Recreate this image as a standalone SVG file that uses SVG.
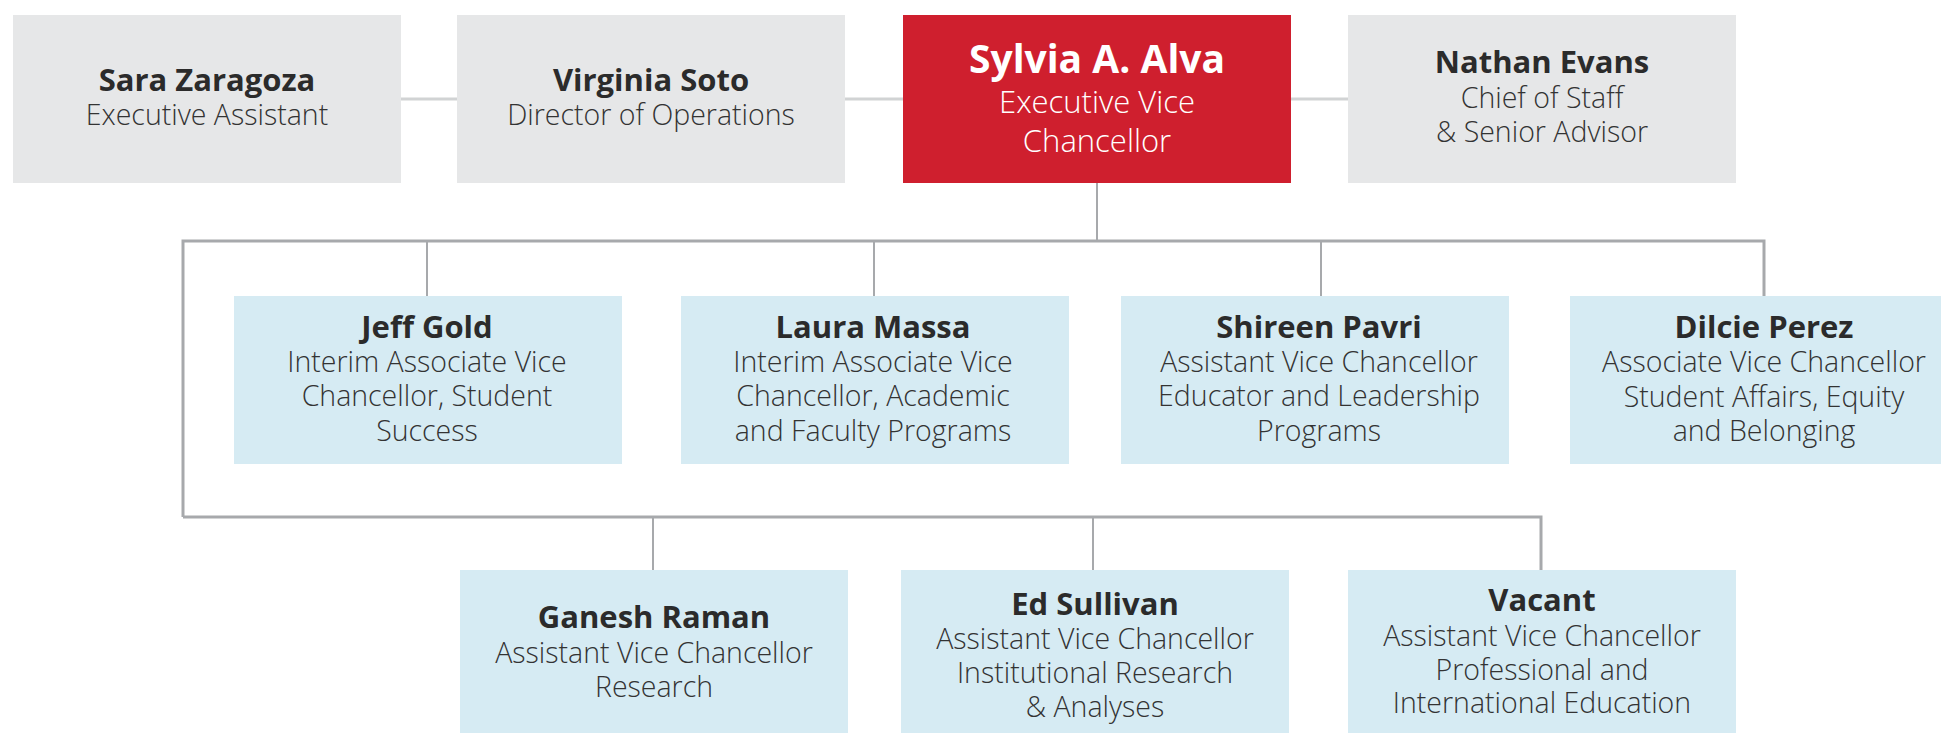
<svg xmlns="http://www.w3.org/2000/svg" width="1941" height="733" viewBox="0 0 1941 733">
<style>
.grey{fill:#e6e7e8}
.red{fill:#cf1f2e}
.blue{fill:#d6ebf3}
.nm{font-family:"Open Sans","Noto Sans",sans-serif;font-weight:700;font-size:31px;fill:#2b2b2b;text-anchor:middle}
.sb{font-family:"Open Sans","Noto Sans",sans-serif;font-weight:300;font-size:28.5px;fill:#333333;text-anchor:middle}
.w{fill:#ffffff}
.lt{stroke:#d1d3d4;stroke-width:3;fill:none}
.ln{stroke:#a7a9ac;stroke-width:2;fill:none}
.lh{stroke:#a7a9ac;stroke-width:3;fill:none}
</style>
<g id="connectors">
<line class="lt" x1="401" y1="99" x2="457" y2="99"/>
<line class="lt" x1="845" y1="99" x2="903" y2="99"/>
<line class="lt" x1="1291" y1="99" x2="1348" y2="99"/>
<line class="ln" x1="1097" y1="183" x2="1097" y2="241"/>
<polyline class="lh" points="183,517 183,241 1764,241 1764,296"/>
<line class="ln" x1="427" y1="241" x2="427" y2="296"/>
<line class="ln" x1="874" y1="241" x2="874" y2="296"/>
<line class="ln" x1="1321" y1="241" x2="1321" y2="296"/>
<polyline class="lh" points="183,517 1541,517 1541,570"/>
<line class="ln" x1="653" y1="517" x2="653" y2="570"/>
<line class="ln" x1="1093" y1="517" x2="1093" y2="570"/>
</g>
<g id="sara">
<rect class="grey" x="13" y="15" width="388" height="168"/>
<text class="nm" x="207" y="91">Sara Zaragoza</text>
<text class="sb" x="207" y="125">Executive Assistant</text>
</g>
<g id="virginia">
<rect class="grey" x="457" y="15" width="388" height="168"/>
<text class="nm" x="651" y="91">Virginia Soto</text>
<text class="sb" x="651" y="125">Director of Operations</text>
</g>
<g id="sylvia">
<rect class="red" x="903" y="15" width="388" height="168"/>
<text class="nm w" x="1097" y="73" style="font-size:39px">Sylvia A. Alva</text>
<text class="sb w" x="1097" y="113" style="font-size:31px">Executive Vice</text>
<text class="sb w" x="1097" y="152" style="font-size:31px">Chancellor</text>
</g>
<g id="nathan">
<rect class="grey" x="1348" y="15" width="388" height="168"/>
<text class="nm" x="1542" y="73">Nathan Evans</text>
<text class="sb" x="1542" y="108">Chief of Staff</text>
<text class="sb" x="1542" y="142">&amp; Senior Advisor</text>
</g>
<g id="jeff">
<rect class="blue" x="234" y="296" width="388" height="168"/>
<text class="nm" x="427" y="338">Jeff Gold</text>
<text class="sb" x="427" y="372">Interim Associate Vice</text>
<text class="sb" x="427" y="406">Chancellor, Student</text>
<text class="sb" x="427" y="441">Success</text>
</g>
<g id="laura">
<rect class="blue" x="681" y="296" width="388" height="168"/>
<text class="nm" x="873" y="338">Laura Massa</text>
<text class="sb" x="873" y="372">Interim Associate Vice</text>
<text class="sb" x="873" y="406">Chancellor, Academic</text>
<text class="sb" x="873" y="441">and Faculty Programs</text>
</g>
<g id="shireen">
<rect class="blue" x="1121" y="296" width="388" height="168"/>
<text class="nm" x="1319" y="338">Shireen Pavri</text>
<text class="sb" x="1319" y="372">Assistant Vice Chancellor</text>
<text class="sb" x="1319" y="406">Educator and Leadership</text>
<text class="sb" x="1319" y="441">Programs</text>
</g>
<g id="dilcie">
<rect class="blue" x="1570" y="296" width="388" height="168"/>
<text class="nm" x="1764" y="338">Dilcie Perez</text>
<text class="sb" x="1764" y="372">Associate Vice Chancellor</text>
<text class="sb" x="1764" y="407">Student Affairs, Equity</text>
<text class="sb" x="1764" y="441">and Belonging</text>
</g>
<g id="ganesh">
<rect class="blue" x="460" y="570" width="388" height="168"/>
<text class="nm" x="654" y="628">Ganesh Raman</text>
<text class="sb" x="654" y="663">Assistant Vice Chancellor</text>
<text class="sb" x="654" y="697">Research</text>
</g>
<g id="ed">
<rect class="blue" x="901" y="570" width="388" height="168"/>
<text class="nm" x="1095" y="615">Ed Sullivan</text>
<text class="sb" x="1095" y="649">Assistant Vice Chancellor</text>
<text class="sb" x="1095" y="683">Institutional Research</text>
<text class="sb" x="1095" y="717">&amp; Analyses</text>
</g>
<g id="vacant">
<rect class="blue" x="1348" y="570" width="388" height="168"/>
<text class="nm" x="1542" y="611">Vacant</text>
<text class="sb" x="1542" y="646">Assistant Vice Chancellor</text>
<text class="sb" x="1542" y="680">Professional and</text>
<text class="sb" x="1542" y="713">International Education</text>
</g>
</svg>
